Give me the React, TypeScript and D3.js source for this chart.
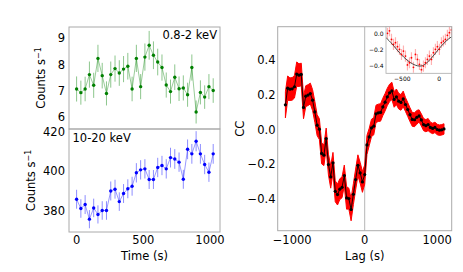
import React from "react";
import * as d3 from "d3";

// ---------- data ----------
const times = [0, 32, 64, 96, 128, 160, 192, 224, 256, 288, 320, 352, 384, 416, 448, 480, 512, 544, 576, 608, 640, 672, 704, 736, 768, 800, 832, 864, 896, 928, 960, 992, 1024];
const softRate = [7.06, 6.92, 7.06, 7.61, 7.2, 8.23, 7.57, 6.89, 7.61, 7.84, 7.67, 7.82, 7.93, 7.06, 8.23, 7.15, 8.28, 8.73, 8.35, 8.09, 7.88, 7.21, 6.96, 7.51, 7.07, 7.1, 6.84, 7.88, 6.18, 6.93, 6.75, 7.15, 7.0];
const softErr = [0.48, 0.46, 0.47, 0.5, 0.48, 0.52, 0.49, 0.46, 0.5, 0.5, 0.49, 0.5, 0.51, 0.47, 0.52, 0.48, 0.52, 0.55, 0.53, 0.51, 0.5, 0.48, 0.46, 0.49, 0.47, 0.48, 0.46, 0.5, 0.44, 0.46, 0.45, 0.48, 0.47];
const hardRate = [385.8, 381.1, 383.1, 375.7, 381.4, 378.1, 380.1, 380.1, 390.0, 390.9, 384.6, 388.7, 391.1, 392.4, 399.2, 400.7, 401.2, 395.8, 395.8, 401.9, 402.9, 401.2, 406.9, 406.2, 404.6, 395.9, 411.1, 408.8, 415.2, 408.8, 403.4, 399.5, 408.8];
const hardErr = [4.8, 4.7, 4.8, 4.6, 4.7, 4.6, 4.7, 4.7, 4.8, 4.8, 4.7, 4.8, 4.8, 4.8, 4.9, 4.9, 4.9, 4.8, 4.8, 4.9, 4.9, 4.9, 5.0, 5.0, 4.9, 4.8, 5.0, 5.0, 5.1, 5.0, 4.9, 4.9, 5.0];

const lags = [-1093.75, -1062.5, -1031.25, -1000, -968.75, -937.5, -906.25, -875, -843.75, -812.5, -781.25, -750, -718.75, -687.5, -656.25, -625, -593.75, -562.5, -531.25, -500, -468.75, -437.5, -406.25, -375, -343.75, -312.5, -281.25, -250, -218.75, -187.5, -156.25, -125, -93.75, -62.5, -31.25, 0, 31.25, 62.5, 93.75, 125, 156.25, 187.5, 218.75, 250, 281.25, 312.5, 343.75, 375, 406.25, 437.5, 468.75, 500, 531.25, 562.5, 593.75, 625, 656.25, 687.5, 718.75, 750, 781.25, 812.5, 843.75, 875, 906.25, 937.5, 968.75, 1000, 1031.25, 1062.5, 1093.75];
const ccValues = [0.142, 0.238, 0.232, 0.234, 0.246, 0.319, 0.313, 0.317, 0.127, 0.192, 0.198, 0.207, 0.169, 0.101, 0.025, 0.002, -0.138, -0.148, -0.052, -0.202, -0.273, -0.192, -0.356, -0.375, -0.344, -0.333, -0.265, -0.394, -0.398, -0.461, -0.373, -0.288, -0.206, -0.25, -0.302, -0.26, -0.089, -0.043, 0.009, 0.019, 0.09, 0.096, 0.098, 0.13, 0.157, 0.188, 0.211, 0.222, 0.173, 0.188, 0.163, 0.156, 0.176, 0.144, 0.115, 0.085, 0.058, 0.056, 0.07, 0.078, 0.055, 0.028, 0.022, 0.028, 0.012, 0.006, 0.012, 0.0, -0.004, -0.002, 0.003];
const ccErr = [0.075, 0.07, 0.065, 0.065, 0.065, 0.07, 0.065, 0.065, 0.065, 0.06, 0.06, 0.06, 0.06, 0.06, 0.06, 0.06, 0.06, 0.06, 0.06, 0.06, 0.065, 0.06, 0.06, 0.06, 0.06, 0.06, 0.06, 0.065, 0.06, 0.065, 0.06, 0.06, 0.06, 0.06, 0.06, 0.055, 0.055, 0.05, 0.05, 0.05, 0.05, 0.05, 0.05, 0.05, 0.05, 0.05, 0.05, 0.05, 0.045, 0.045, 0.045, 0.045, 0.045, 0.04, 0.04, 0.04, 0.04, 0.04, 0.04, 0.035, 0.035, 0.035, 0.035, 0.035, 0.03, 0.03, 0.03, 0.03, 0.03, 0.03, 0.03];

const insetLags = [-700, -673, -646, -619, -592, -565, -538, -511, -484, -457, -430, -403, -376, -349, -322, -295, -268, -241, -214, -187, -160, -133, -106, -79, -52, -25, 2, 29, 56, 83, 110, 137, 164];
const insetCC = [0.008, 0.04, -0.068, -0.131, -0.11, -0.16, -0.194, -0.258, -0.215, -0.279, -0.39, -0.363, -0.3, -0.42, -0.258, -0.321, -0.384, -0.45, -0.405, -0.363, -0.321, -0.279, -0.321, -0.236, -0.194, -0.16, -0.194, -0.11, -0.089, -0.068, -0.017, 0.017, 0.051];
const insetErr = [0.07, 0.07, 0.07, 0.07, 0.07, 0.07, 0.07, 0.07, 0.07, 0.07, 0.07, 0.07, 0.07, 0.07, 0.07, 0.07, 0.07, 0.07, 0.07, 0.07, 0.07, 0.07, 0.07, 0.07, 0.07, 0.07, 0.07, 0.07, 0.07, 0.07, 0.07, 0.07, 0.07];
const fitLags = [-720, -657, -568, -477, -386, -297, -230, -162, -72, 19, 108, 168];
const fitCC = [-0.047, -0.105, -0.203, -0.295, -0.363, -0.401, -0.401, -0.358, -0.266, -0.161, -0.076, -0.034];

const timeTicks = [0, 500, 1000];
const softTicks = [6, 7, 8, 9];
const hardTicks = [380, 400, 420];
const lagTicks = [-1000, 0, 1000];
const ccTicks = [-0.4, -0.2, 0.0, 0.2, 0.4];
const insetXTicks = [-500, 0];
const insetYTicks = [-0.4, -0.2, 0.0];

const FONT = "DejaVu Sans, sans-serif";
const FRAME = "#aaaaaa";
const fmtNum = (v: number, digits: number) => {
  const s = v.toFixed(digits);
  return v < 0 ? "\u2212" + s.slice(1) : s;
};

export default function App() {
  // left panels
  const xT = d3.scaleLinear().domain([-57, 1075]).range([69, 220]);
  const ySoft = d3.scaleLinear().domain([5.53, 9.43]).range([129, 27]);
  const yHard = d3.scaleLinear().domain([369.2, 421.4]).range([232, 129]);
  // right panel
  const xL = d3.scaleLinear().domain([-1200, 1200]).range([277.7, 451.7]);
  const yC = d3.scaleLinear().domain([-0.583, 0.592]).range([230.7, 26.7]);
  // inset
  const xI = d3.scaleLinear().domain([-720, 168]).range([386, 451.7]);
  const yI = d3.scaleLinear().domain([-0.496, 0.092]).range([73.3, 26.7]);

  const softLine = d3.line<number>().x((_, i) => xT(times[i])).y((d) => ySoft(d))(softRate) || "";
  const hardLine = d3.line<number>().x((_, i) => xT(times[i])).y((d) => yHard(d))(hardRate) || "";
  const ccLine = d3.line<number>().x((_, i) => xL(lags[i])).y((d) => yC(d))(ccValues) || "";
  const ccArea =
    d3
      .area<number>()
      .x((_, i) => xL(lags[i]))
      .y0((d, i) => yC(d - ccErr[i]))
      .y1((d, i) => yC(d + ccErr[i]))(ccValues) || "";
  const fitLine =
    d3
      .line<number>()
      .curve(d3.curveCatmullRom)
      .x((_, i) => xI(fitLags[i]))
      .y((d) => yI(d))(fitCC) || "";

  return (
    <svg
      width={463}
      height={272}
      style={{ position: "absolute", left: 0, top: 0, background: "#fff" }}
      fontFamily={FONT}
    >
      <defs>
        <clipPath id="insetClip">
          <rect x={386} y={26.7} width={65.7} height={46.6} />
        </clipPath>
        <clipPath id="mainClip">
          <rect x={277.7} y={26.7} width={174} height={204} />
        </clipPath>
      </defs>

      {/* ---------- top-left panel ---------- */}
      <g>
        {softRate.map((v, i) => (
          <line
            key={"se" + i}
            x1={xT(times[i])}
            x2={xT(times[i])}
            y1={ySoft(v - softErr[i])}
            y2={ySoft(v + softErr[i])}
            stroke="green"
            strokeOpacity={0.45}
            strokeWidth={1}
          />
        ))}
        <path d={softLine} fill="none" stroke="green" strokeOpacity={0.4} strokeWidth={1} />
        {softRate.map((v, i) => (
          <circle key={"sp" + i} cx={xT(times[i])} cy={ySoft(v)} r={1.7} fill="green" />
        ))}
        <rect x={69} y={27} width={151} height={102} fill="none" stroke={FRAME} strokeWidth={1} />
        {softTicks.map((t) => (
          <text key={"st" + t} x={65} y={ySoft(t)} dy="0.36em" textAnchor="end" fontSize={11.5}>
            {t}
          </text>
        ))}
        <text x={217} y={38.5} textAnchor="end" fontSize={11.5}>
          0.8-2 keV
        </text>
        <text transform="translate(45,78) rotate(-90)" textAnchor="middle" fontSize={11.5}>
          Counts s<tspan dy={-4.5} fontSize={8}>−1</tspan>
        </text>
      </g>

      {/* ---------- bottom-left panel ---------- */}
      <g>
        {hardRate.map((v, i) => (
          <line
            key={"he" + i}
            x1={xT(times[i])}
            x2={xT(times[i])}
            y1={yHard(v - hardErr[i])}
            y2={yHard(v + hardErr[i])}
            stroke="blue"
            strokeOpacity={0.45}
            strokeWidth={1}
          />
        ))}
        <path d={hardLine} fill="none" stroke="blue" strokeOpacity={0.4} strokeWidth={1} />
        {hardRate.map((v, i) => (
          <circle key={"hp" + i} cx={xT(times[i])} cy={yHard(v)} r={1.7} fill="blue" />
        ))}
        <rect x={69} y={129} width={151} height={103} fill="none" stroke={FRAME} strokeWidth={1} />
        {hardTicks.map((t) => (
          <text key={"ht" + t} x={65} y={yHard(t)} dy="0.36em" textAnchor="end" fontSize={11.5}>
            {t}
          </text>
        ))}
        {timeTicks.map((t) => (
          <text key={"tt" + t} x={xT(t)} y={243.5} textAnchor="middle" fontSize={11.5}>
            {t}
          </text>
        ))}
        <text x={72.5} y={141.5} fontSize={11.5}>
          10-20 keV
        </text>
        <text transform="translate(35,180.5) rotate(-90)" textAnchor="middle" fontSize={11.5}>
          Counts s<tspan dy={-4.5} fontSize={8}>−1</tspan>
        </text>
        <text x={144.5} y={260} textAnchor="middle" fontSize={11.5}>
          Time (s)
        </text>
      </g>

      {/* ---------- right panel ---------- */}
      <g>
        <line x1={xL(0)} x2={xL(0)} y1={26.7} y2={230.7} stroke="#b5b5b5" strokeWidth={1} />
        <g clipPath="url(#mainClip)">
          <path d={ccArea} fill="red" stroke="red" strokeWidth={1} strokeLinejoin="round" />
          <path d={ccLine} fill="none" stroke="black" strokeWidth={0.9} />
          {ccValues.map((v, i) => (
            <circle key={"cp" + i} cx={xL(lags[i])} cy={yC(v)} r={1.6} fill="black" />
          ))}
        </g>
        <rect x={277.7} y={26.7} width={174} height={204} fill="none" stroke={FRAME} strokeWidth={1} />
        {ccTicks.map((t) => (
          <text key={"ct" + t} x={275.5} y={yC(t)} dy="0.36em" textAnchor="end" fontSize={11.5}>
            {fmtNum(t, 1)}
          </text>
        ))}
        {lagTicks.map((t) => (
          <text key={"lt" + t} x={xL(t)} y={243.5} textAnchor="middle" fontSize={11.5}>
            {t < 0 ? "\u2212" + Math.abs(t) : t}
          </text>
        ))}
        <text x={xL(0)} y={260} textAnchor="middle" fontSize={11.5}>
          Lag (s)
        </text>
        <text transform="translate(244,128.7) rotate(-90)" textAnchor="middle" fontSize={11.5}>
          CC
        </text>
      </g>

      {/* ---------- inset ---------- */}
      <g>
        <rect x={386} y={26.7} width={65.7} height={46.6} fill="white" stroke="none" />
        <g clipPath="url(#insetClip)">
          {insetCC.map((v, i) => (
            <line
              key={"ie" + i}
              x1={xI(insetLags[i])}
              x2={xI(insetLags[i])}
              y1={yI(v - insetErr[i])}
              y2={yI(v + insetErr[i])}
              stroke="red"
              strokeOpacity={0.3}
              strokeWidth={1.2}
            />
          ))}
          <path d={fitLine} fill="none" stroke="#333" strokeWidth={0.9} />
          {insetCC.map((v, i) => (
            <circle key={"ip" + i} cx={xI(insetLags[i])} cy={yI(v)} r={0.9} fill="red" />
          ))}
        </g>
        <rect x={386} y={26.7} width={65.7} height={46.6} fill="none" stroke={FRAME} strokeWidth={0.8} />
        {insetYTicks.map((t) => (
          <text key={"iy" + t} x={383.5} y={yI(t)} dy="0.36em" textAnchor="end" fontSize={6}>
            {fmtNum(t, 1)}
          </text>
        ))}
        {insetXTicks.map((t) => (
          <text key={"ix" + t} x={xI(t)} y={80.5} textAnchor="middle" fontSize={6}>
            {t < 0 ? "\u2212" + Math.abs(t) : t}
          </text>
        ))}
      </g>
    </svg>
  );
}
